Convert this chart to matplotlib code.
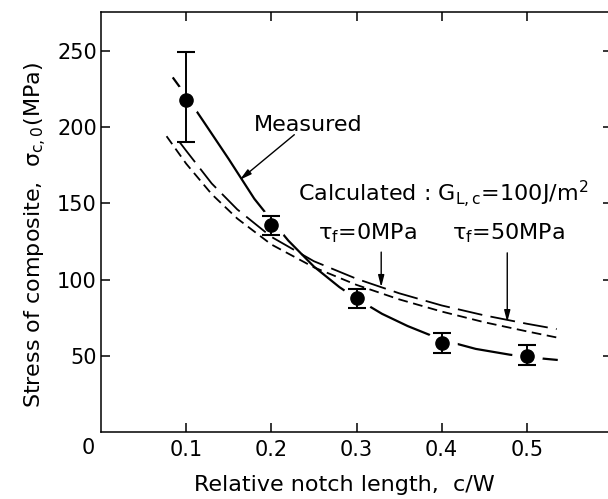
import matplotlib
matplotlib.use("Agg")
import matplotlib.pyplot as plt

# measured points (c/W, stress MPa) with error bars
meas_x = [0.1, 0.2, 0.3, 0.4, 0.5]
meas_y = [218, 136, 88, 58.5, 50]
meas_lo = [190, 129, 81, 52, 44]
meas_hi = [249, 142, 94, 65, 57]

# fitted curve through measured data
fit_x = [0.085, 0.1, 0.12, 0.15, 0.18, 0.2, 0.22, 0.25, 0.28, 0.3, 0.33, 0.36, 0.4, 0.44, 0.48, 0.51, 0.535]
fit_y = [232, 220.5, 204, 179, 153, 139, 125.5, 108.5, 95, 87.5, 77.5, 69.5, 60.5, 54.5, 50.7, 48.6, 47.3]

# calculated curves, G_L,c = 100 J/m2
calc_a_x = [0.0925, 0.1, 0.13, 0.16, 0.2, 0.25, 0.3, 0.35, 0.4, 0.45, 0.5, 0.535]
calc_a_y = [190, 184.5, 163, 146, 128, 112, 100.5, 91, 83, 76.5, 71, 67.5]
calc_b_x = [0.077, 0.1, 0.13, 0.16, 0.2, 0.25, 0.3, 0.35, 0.4, 0.45, 0.5, 0.535]
calc_b_y = [194, 176, 156, 140, 123, 108, 96.5, 87, 79, 72, 66, 62]

xticks = [0.1, 0.2, 0.3, 0.4, 0.5]
yticks = [50, 100, 150, 200, 250]

plt.rcParams["font.family"] = "DejaVu Sans"
plt.rcParams["mathtext.default"] = "regular"
plt.rcParams["lines.scale_dashes"] = False

fig = plt.figure(figsize=(6.08, 4.99), dpi=100)
ax = fig.add_axes([0.1661, 0.1343, 0.8405, 0.8417])
ax.set_xlim(0, 0.6)
ax.set_ylim(0, 275.5)

# measured fit line, with white halos cut around the markers
ax.plot(fit_x, fit_y, color="black", lw=1.6, zorder=1)
ax.plot(meas_x, meas_y, "o", color="white", markersize=22, markeredgewidth=0, zorder=2)

ax.plot(calc_a_x, calc_a_y, color="black", lw=1.3, dashes=(18, 6), zorder=3)
ax.plot(calc_b_x, calc_b_y, color="black", lw=1.3, dashes=(7, 4), zorder=3)

err = [[m - l for m, l in zip(meas_y, meas_lo)], [h - m for m, h in zip(meas_y, meas_hi)]]
ax.errorbar(meas_x, meas_y, yerr=err, fmt="o", color="black", markersize=9.5,
            elinewidth=1.4, capsize=6.5, capthick=1.5, zorder=4)

ax.set_xticks(xticks)
ax.set_xticklabels(["0.1", "0.2", "0.3", "0.4", "0.5"])
ax.set_yticks(yticks)
ax.tick_params(direction="in", length=6.5, width=1.1, labelsize=15, top=True, right=True)
ax.tick_params(axis="x", pad=6)
ax.tick_params(axis="y", pad=3)
for s in ax.spines.values():
    s.set_linewidth(1.1)

ax.annotate("0", xy=(0, 0), xycoords="axes fraction", xytext=(-13, -16),
            textcoords="offset pixels", ha="center", va="center", fontsize=15)

ax.set_xlabel("Relative notch length,  c/W", fontsize=16)
ax.xaxis.set_label_coords(0.477, -0.126)
ax.xaxis.label.set_va("center")
ax.set_ylabel(r"Stress of composite,  $\sigma_{c,0}$(MPa)", fontsize=16)
ax.yaxis.set_label_coords(-0.128, 0.469)
ax.yaxis.label.set_va("center")

arrow = dict(arrowstyle="-|>,head_length=0.7,head_width=0.18", color="black", lw=1,
             shrinkA=0, shrinkB=0)
ax.text(0.18, 197.5, "Measured", fontsize=16, ha="left", va="baseline")
ax.annotate("", xy=(0.163, 165.4), xytext=(0.227, 195), arrowprops=arrow)

ax.text(0.231, 150.9, r"Calculated : G$_{L,c}$=100J/m$^2$", fontsize=16, ha="left", va="baseline")
ax.text(0.2545, 126, r"$\tau_f$=0MPa", fontsize=16, ha="left", va="baseline")
ax.text(0.412, 126, r"$\tau_f$=50MPa", fontsize=16, ha="left", va="baseline")
ax.annotate("", xy=(0.329, 95), xytext=(0.329, 118), arrowprops=arrow)
ax.annotate("", xy=(0.477, 72), xytext=(0.477, 117.5), arrowprops=arrow)

fig.savefig("out.png", dpi=100)
